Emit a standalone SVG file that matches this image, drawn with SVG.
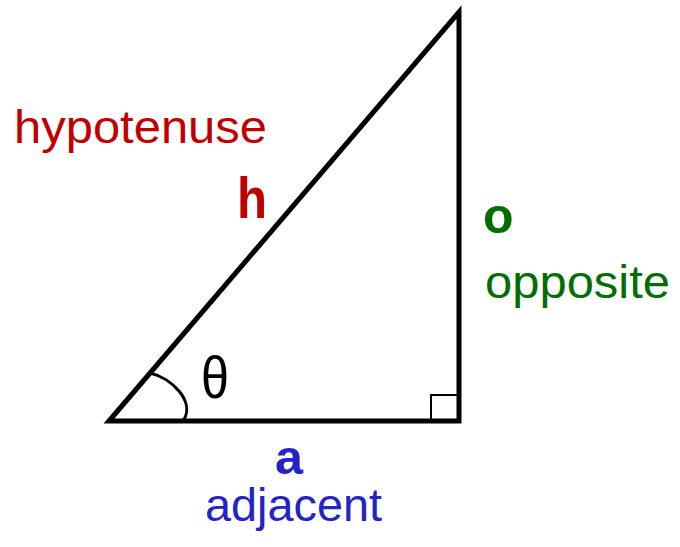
<svg xmlns="http://www.w3.org/2000/svg" width="680" height="547" viewBox="0 0 680 547">
<style>
.t{font-family:"Liberation Sans",Arial,sans-serif}
.b{font-weight:bold}
.red{fill:#c00000}
.grn{fill:#006e00}
.blu{fill:#2323c8}
</style>
<rect width="680" height="547" fill="#fff"/>
<g id="triangle">
<polygon points="109,421 459,12 459,421" fill="none" stroke="#000" stroke-width="5" stroke-linejoin="miter"/>
<rect x="431" y="395" width="28" height="26" fill="none" stroke="#000" stroke-width="2"/>
<path d="M150,373 C172,378 196,402 183,421" fill="none" stroke="#000" stroke-width="3"/>
</g>
<g id="theta"><text class="t" x="201" y="398" font-size="60" textLength="28" lengthAdjust="spacingAndGlyphs">θ</text></g>
<g id="hyp">
<text class="t red" x="14" y="143" font-size="46" textLength="253" lengthAdjust="spacingAndGlyphs">hypotenuse</text>
<text class="t b red" x="237" y="218" font-size="57" textLength="30" lengthAdjust="spacingAndGlyphs">h</text>
</g>
<g id="opp">
<text class="t b grn" x="483" y="233" font-size="50">o</text>
<text class="t grn" x="485" y="298" font-size="46" textLength="185" lengthAdjust="spacingAndGlyphs">opposite</text>
</g>
<g id="adj">
<text class="t b blu" x="275" y="474" font-size="48" textLength="28" lengthAdjust="spacingAndGlyphs">a</text>
<text class="t blu" x="205" y="521" font-size="46" textLength="177" lengthAdjust="spacingAndGlyphs">adjacent</text>
</g>
</svg>
